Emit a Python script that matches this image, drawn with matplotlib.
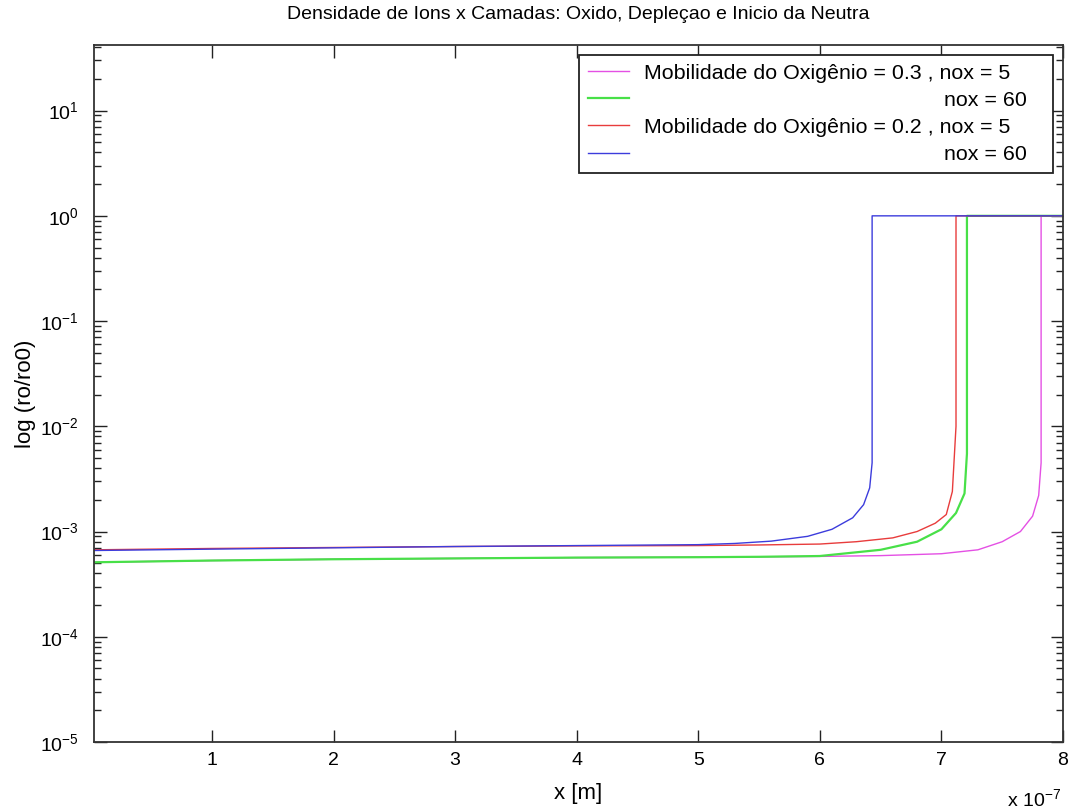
import matplotlib
matplotlib.use("Agg")
import matplotlib.pyplot as plt
from matplotlib.ticker import LogLocator, FixedLocator
from matplotlib.font_manager import FontProperties

plt.rcParams["font.family"] = "Liberation Sans"
plt.rcParams["mathtext.fontset"] = "custom"
plt.rcParams["mathtext.rm"] = "Liberation Sans"
plt.rcParams["mathtext.it"] = "Liberation Sans:italic"

# x positions in units of 1e-7 m, density ratio ro/ro0
x_m03_n5 = [0.03, 1.0, 2.0, 3.0, 4.0, 5.0, 6.0, 6.5, 7.0, 7.3, 7.5, 7.65, 7.75, 7.8, 7.82, 7.82, 8.0]
y_m03_n5 = [5.1e-4, 5.3e-4, 5.45e-4, 5.55e-4, 5.65e-4, 5.7e-4, 5.8e-4, 5.9e-4, 6.15e-4,
            6.7e-4, 8.0e-4, 1.0e-3, 1.4e-3, 2.2e-3, 4.5e-3, 1.0, 1.0]

x_m03_n60 = [0.03, 1.0, 2.0, 3.0, 4.0, 5.0, 5.5, 6.0, 6.5, 6.8, 7.0, 7.12, 7.19, 7.21, 7.21, 8.0]
y_m03_n60 = [5.1e-4, 5.3e-4, 5.45e-4, 5.55e-4, 5.65e-4, 5.7e-4, 5.75e-4, 5.85e-4, 6.7e-4,
             8.0e-4, 1.05e-3, 1.5e-3, 2.3e-3, 5.5e-3, 1.0, 1.0]

x_m02_n5 = [0.03, 1.0, 2.0, 3.0, 4.0, 5.0, 5.5, 6.0, 6.3, 6.6, 6.8, 6.95, 7.04, 7.09, 7.12, 7.12, 8.0]
y_m02_n5 = [6.7e-4, 6.9e-4, 7.05e-4, 7.2e-4, 7.3e-4, 7.35e-4, 7.45e-4, 7.6e-4, 8.0e-4,
            8.7e-4, 1.0e-3, 1.2e-3, 1.45e-3, 2.4e-3, 1.0e-2, 1.0, 1.0]

x_m02_n60 = [0.03, 1.0, 2.0, 3.0, 4.0, 5.0, 5.3, 5.6, 5.9, 6.1, 6.27, 6.36, 6.41, 6.43, 6.43, 8.0]
y_m02_n60 = [6.6e-4, 6.8e-4, 7.0e-4, 7.2e-4, 7.35e-4, 7.5e-4, 7.7e-4, 8.1e-4, 9.0e-4,
             1.05e-3, 1.35e-3, 1.8e-3, 2.6e-3, 4.5e-3, 1.0, 1.0]

labels = ["Mobilidade do Oxigênio = 0.3 , nox = 5",
          "nox = 60",
          "Mobilidade do Oxigênio = 0.2 , nox = 5",
          "nox = 60"]
x_ticks = [1, 2, 3, 4, 5, 6, 7, 8]

fig = plt.figure(figsize=(10.72, 8.10), dpi=100)
ax = fig.add_axes([0.0877, 0.084, 0.9039, 0.8604])

ax.plot(x_m03_n5, y_m03_n5, color="#e450e4", lw=1.0, label=labels[0])
ax.plot(x_m03_n60, y_m03_n60, color="#48e048", lw=1.6, label=labels[1])
ax.plot(x_m02_n5, y_m02_n5, color="#e83c3c", lw=1.0, label=labels[2])
ax.plot(x_m02_n60, y_m02_n60, color="#3c3cdc", lw=1.0, label=labels[3])

ax.set_yscale("log")
ax.set_xlim(0.03, 8.0)
ax.set_ylim(1e-5, 42)
ax.xaxis.set_major_locator(FixedLocator(x_ticks))
ax.set_xticklabels([str(t) for t in x_ticks])
ax.yaxis.set_major_locator(LogLocator(base=10, numticks=10))
ax.yaxis.set_minor_locator(LogLocator(base=10, subs=range(2, 10), numticks=20))

ax.tick_params(which="both", direction="in", top=True, right=True, labelsize=14, width=1.0, color="#222222")
ax.tick_params(axis="x", which="major", length=9, pad=7)
ax.tick_params(axis="y", which="major", length=9, pad=11)
ax.tick_params(which="minor", length=5)
for s in ax.spines.values():
    s.set_linewidth(1.3)
    s.set_color("#333333")

ax.set_title("Densidade de Ions x Camadas: Oxido, Depleçao e Inicio da Neutra", fontsize=14, pad=19)
ax.set_xlabel("x [m]", fontsize=16, labelpad=10)
ax.set_ylabel("log (ro/ro0)", fontsize=16, labelpad=3)
fig.text(0.990, 0.0, "x 10$^{-7}$", fontsize=14, ha="right", va="bottom")

# pad the short labels with spaces so they line up on the right
renderer = fig.canvas.get_renderer()
leg_font = FontProperties(family="Liberation Sans", size=15.4)

def text_width(s):
    w, h, d = renderer.get_text_width_height_descent(s, leg_font, ismath=False)
    return w

full_w = text_width(labels[0])
padded = []
for lab in labels:
    s = lab
    if text_width(s) < full_w - 20:
        while text_width(" " + s) <= full_w + 18:
            s = " " + s
    padded.append(s + "   ")

handles = ax.get_lines()
leg = ax.legend(handles, padded, loc="upper right", prop=leg_font, frameon=True, fancybox=False,
                edgecolor="#222222", framealpha=1, handlelength=1.9, handletextpad=0.7,
                labelspacing=0.38, borderpad=0.42, borderaxespad=0.45)
leg.get_frame().set_linewidth(1.3)

fig.savefig("out.png", dpi=100)
